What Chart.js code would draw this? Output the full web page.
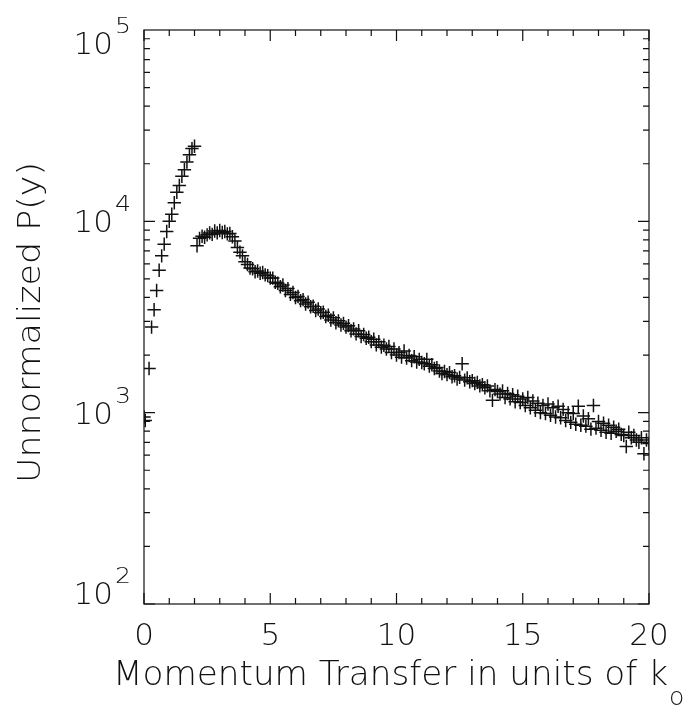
<!DOCTYPE html>
<html>
<head>
<meta charset="utf-8">
<script src="https://cdn.jsdelivr.net/npm/chart.js@4.4.1/dist/chart.umd.min.js"></script>
<style>
  html, body { margin: 0; padding: 0; background: #fff; }
  #c { display: block; }
</style>
</head>
<body>
<canvas id="c" width="685" height="706"></canvas>
<script>
// rising branch, small momentum transfer
const riseX = [0.0, 0.05, 0.2, 0.3, 0.4, 0.5, 0.6, 0.7, 0.8, 0.9, 1.0,
               1.1, 1.2, 1.3, 1.4, 1.5, 1.6, 1.7, 1.8, 1.9, 2.0];
const riseY = [950, 910, 1700, 2800, 3450, 4350, 5550, 6600, 7600, 8850, 10000,
               10900, 12500, 14200, 15400, 17200, 18600, 20400, 22300, 24000, 24700];

// falling branch
const fallX = [
  2.1, 2.2, 2.3, 2.4, 2.5, 2.6, 2.7, 2.8, 2.9, 3.0,
  3.1, 3.2, 3.3, 3.4, 3.5, 3.6, 3.7, 3.8, 3.9, 4.0,
  4.1, 4.2, 4.3, 4.4, 4.5, 4.6, 4.7, 4.8, 4.9, 5.0,
  5.1, 5.2, 5.3, 5.4, 5.5, 5.6, 5.7, 5.8, 5.9, 6.0,
  6.1, 6.2, 6.3, 6.4, 6.5, 6.6, 6.7, 6.8, 6.9, 7.0,
  7.1, 7.2, 7.3, 7.4, 7.5, 7.6, 7.7, 7.8, 7.9, 8.0,
  8.1, 8.2, 8.3, 8.4, 8.5, 8.6, 8.7, 8.8, 8.9, 9.0,
  9.1, 9.2, 9.3, 9.4, 9.5, 9.6, 9.7, 9.8, 9.9, 10.0,
  10.1, 10.2, 10.3, 10.4, 10.5, 10.6, 10.7, 10.8, 10.9, 11.0,
  11.1, 11.2, 11.3, 11.4, 11.5, 11.6, 11.7, 11.8, 11.9, 12.0,
  12.1, 12.2, 12.3, 12.4, 12.5, 12.6, 12.7, 12.8, 12.9, 13.0,
  13.1, 13.2, 13.3, 13.4, 13.5, 13.6, 13.7, 13.8, 13.9, 14.0,
  14.1, 14.2, 14.3, 14.4, 14.5, 14.6, 14.7, 14.8, 14.9, 15.0,
  15.1, 15.2, 15.3, 15.4, 15.5, 15.6, 15.7, 15.8, 15.9, 16.0,
  16.1, 16.2, 16.3, 16.4, 16.5, 16.6, 16.7, 16.8, 16.9, 17.0,
  17.1, 17.2, 17.3, 17.4, 17.5, 17.6, 17.7, 17.8, 17.9, 18.0,
  18.1, 18.2, 18.3, 18.4, 18.5, 18.6, 18.7, 18.8, 18.9, 19.0,
  19.1, 19.2, 19.3, 19.4, 19.5, 19.6, 19.7, 19.8, 19.9, 20.0
];
const fallY = [
  7450, 8150, 8350, 8250, 8500, 8700, 8550, 8900, 8700, 8950,
  8750, 8850, 8600, 8650, 8300, 7900, 7300, 6900, 6600, 6150,
  5950, 5700, 5650, 5450, 5500, 5350, 5400, 5250, 5200, 5050,
  5050, 4800, 4750, 4550, 4650, 4350, 4450, 4150, 4250, 4000,
  4050, 3850, 3900, 3700, 3780, 3580, 3600, 3420, 3480, 3330,
  3350, 3180, 3230, 3050, 3130, 2950, 3020, 2870, 2930, 2800,
  2850, 2680, 2740, 2580, 2680, 2500, 2560, 2450, 2480, 2350,
  2420, 2260, 2350, 2200, 2250, 2150, 2220, 2060, 2150, 2000,
  2060, 1950, 2100, 1930, 1990, 1870, 1960, 1840, 1900, 1830,
  1800, 1900, 1750, 1780, 1700, 1720, 1650, 1600, 1640, 1580,
  1620, 1540, 1560, 1500, 1530, 1800, 1480, 1520, 1450, 1470,
  1420, 1440, 1380, 1400, 1350, 1380, 1300, 1160, 1320, 1290,
  1250, 1300, 1200, 1260, 1180, 1240, 1140, 1220, 1130, 1180,
  1090, 1200, 1060, 1150, 1030, 1120, 1000, 1090, 990, 1110,
  970, 1060, 950, 1080, 940, 1040, 910, 1000, 890, 990,
  870, 1080, 860, 960, 850, 930, 820, 1090, 830, 900,
  810, 880, 790, 860, 780, 840, 800, 820, 770, 760,
  665, 790, 740, 760, 720, 700, 740, 610, 720, 690
];

const xTicks = [0, 5, 10, 15, 20];
const yExponents = [2, 3, 4, 5];
const xTitle = 'Momentum Transfer in units of k';
const xTitleSub = 'o';
const yTitle = 'Unnormalized P(y)';

const FONT = '"DejaVu Sans", "Liberation Sans", sans-serif';

function toPoints(xs, ys) {
    return xs.map((x, i) => ({ x: x, y: ys[i] }));
}

// stretch text sideways so it fills the given width
function fitText(ctx, text, x, y, width) {
    const w0 = ctx.measureText(text).width;
    ctx.save();
    ctx.translate(x, y);
    ctx.scale(width / w0, 1);
    ctx.textAlign = 'left';
    ctx.fillText(text, 0, 0);
    ctx.restore();
}

const framePlugin = {
    id: 'frame',
    afterDraw(chart) {
        const ctx = chart.ctx;
        const a = chart.chartArea;
        const xs = chart.scales.x;
        const ys = chart.scales.y;
        ctx.save();
        ctx.strokeStyle = '#111';
        ctx.lineWidth = 1.2;
        ctx.strokeRect(a.left, a.top, a.right - a.left, a.bottom - a.top);

        ctx.beginPath();
        for (let v = 0; v <= 20; v++) {
            const px = xs.getPixelForValue(v);
            const len = v % 5 === 0 ? 11 : 6;
            ctx.moveTo(px, a.bottom); ctx.lineTo(px, a.bottom - len);
            ctx.moveTo(px, a.top); ctx.lineTo(px, a.top + len);
        }
        for (let d = 2; d <= 4; d++) {
            for (let m = 1; m <= 9; m++) {
                const py = ys.getPixelForValue(m * Math.pow(10, d));
                const len = m === 1 ? 11 : 6;
                ctx.moveTo(a.left, py); ctx.lineTo(a.left + len, py);
                ctx.moveTo(a.right, py); ctx.lineTo(a.right - len, py);
            }
        }
        ctx.stroke();

        ctx.fillStyle = '#111';
        ctx.textBaseline = 'alphabetic';

        // x tick labels
        ctx.font = '200 31px ' + FONT;
        ctx.textAlign = 'center';
        xTicks.forEach(v => {
            ctx.fillText(String(v), xs.getPixelForValue(v), a.bottom + 41);
        });

        // y tick labels as 10 with a raised exponent
        yExponents.forEach(e => {
            let cy = ys.getPixelForValue(Math.pow(10, e));
            cy = Math.min(Math.max(cy, a.top + 13), a.bottom - 11);
            const base = cy + 11;
            ctx.font = '200 31px ' + FONT;
            ctx.textAlign = 'right';
            ctx.fillText('10', a.left - 31, base);
            ctx.font = '200 21px ' + FONT;
            fitText(ctx, String(e), a.left - 29, base - 21, 16);
        });

        // x title with subscript
        ctx.font = '200 33px ' + FONT;
        fitText(ctx, xTitle, 113, 685, 555);
        ctx.font = '200 25px ' + FONT;
        ctx.textAlign = 'left';
        ctx.fillText(xTitleSub, 669, 705);

        // y title, rotated
        ctx.translate(40, 483);
        ctx.rotate(-Math.PI / 2);
        ctx.font = '200 32px ' + FONT;
        fitText(ctx, yTitle, 0, 0, 321);
        ctx.restore();
    }
};

const markStyle = {
    showLine: false,
    pointStyle: 'cross',
    pointRadius: 6.7,
    pointBorderWidth: 1.5,
    pointBorderColor: '#111',
    pointBackgroundColor: '#111'
};

new Chart(document.getElementById('c'), {
    type: 'scatter',
    data: {
        datasets: [
            Object.assign({ label: 'rise', data: toPoints(riseX, riseY) }, markStyle),
            Object.assign({ label: 'fall', data: toPoints(fallX, fallY) }, markStyle)
        ]
    },
    options: {
        responsive: false,
        animation: false,
        devicePixelRatio: 1,
        layout: { padding: { left: 144, right: 36, top: 30, bottom: 102 } },
        plugins: {
            legend: { display: false },
            tooltip: { enabled: false }
        },
        scales: {
            x: { type: 'linear', min: 0, max: 20, display: false },
            y: { type: 'logarithmic', min: 100, max: 100000, display: false }
        }
    },
    plugins: [framePlugin]
});
</script>
</body>
</html>
